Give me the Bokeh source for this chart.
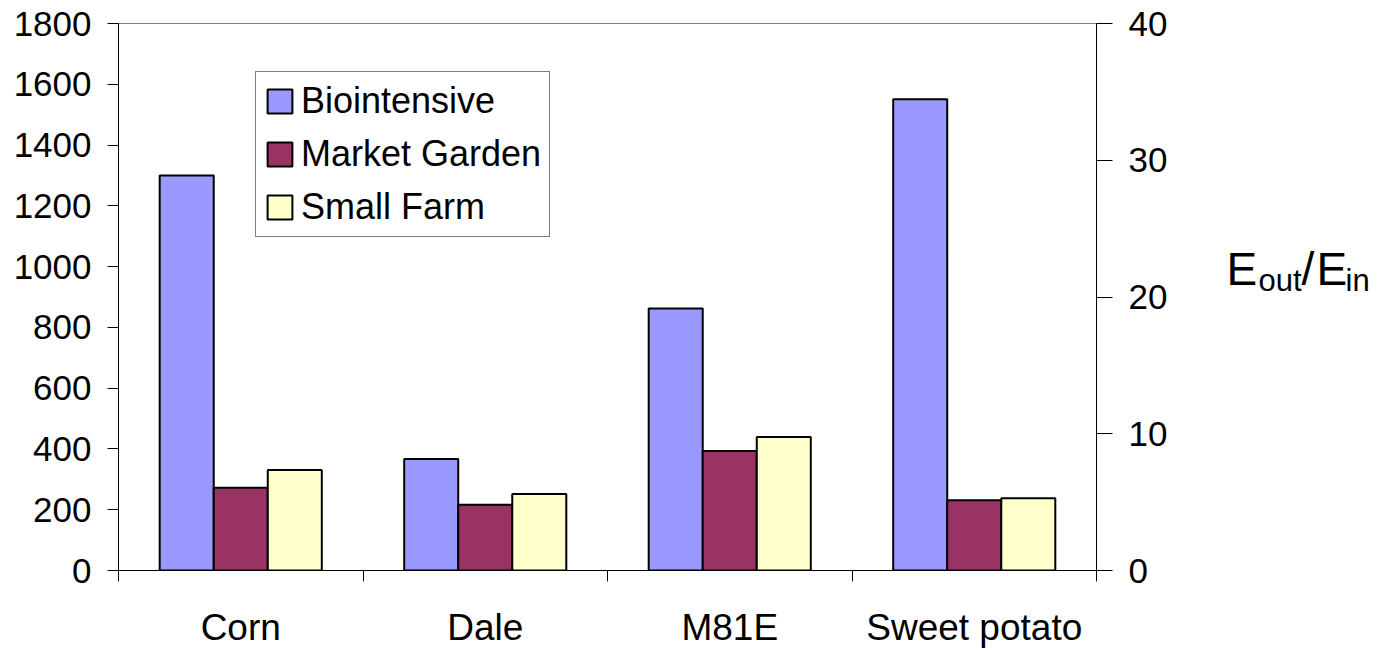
from bokeh.plotting import figure
from bokeh.layouts import row
from bokeh.models import (ColumnDataSource, Range1d, LinearAxis, FixedTicker,
                          Legend, LegendItem)
from bokeh.core.properties import value
from bokeh.embed import file_html
from bokeh.resources import INLINE

# Crops and yields
categories = ["Corn", "Dale", "M81E", "Sweet potato"]
series_names = ["Biointensive", "Market Garden", "Small Farm"]
biointensive = [1300, 367, 862, 1551]
market_garden = [272, 216, 393, 231]
small_farm = [331, 252, 439, 238]
left_ticks = [0, 200, 400, 600, 800, 1000, 1200, 1400, 1600, 1800]
right_ticks = [0, 10, 20, 30, 40]

colors = ["#9999FF", "#993366", "#FFFFCC"]
FONT = "Liberation Sans"

W, H = 1377, 650
MAIN_W = 1200                          # main chart width; the ratio title sits to its right
FL, FR, FT, FB = 118, 1096, 23, 572    # frame edges in pixels

p = figure(width=MAIN_W, height=H, x_range=Range1d(0, len(categories)),
           y_range=Range1d(0, 1800), output_backend="svg", toolbar_location=None,
           min_border_left=FL, min_border_right=MAIN_W - FR, min_border_top=FT,
           min_border_bottom=H - FB, x_axis_type=None, y_axis_type=None)
p.extra_y_ranges = {"ratio": Range1d(0, 40)}
p.xgrid.visible = False
p.ygrid.visible = False
p.outline_line_color = "#808080"
p.outline_line_width = 1
p.background_fill_color = "white"
p.border_fill_color = "white"

# grouped bars
bar_w = 0.221
offsets = [-bar_w, 0.0, bar_w]
renderers = []
for vals, off, col in zip([biointensive, market_garden, small_farm], offsets, colors):
    src = ColumnDataSource(dict(x=[i + 0.5 + off for i in range(len(categories))], top=vals))
    r = p.vbar(x="x", top="top", bottom=0, width=bar_w, source=src,
               fill_color=col, line_color="black", line_width=2)
    renderers.append(r)

# left value axis
ly = LinearAxis(ticker=FixedTicker(ticks=left_ticks, minor_ticks=[]))
ly.major_label_text_font = FONT
ly.major_label_text_font_size = "35px"
ly.major_label_text_color = "black"
ly.major_tick_out = 11
ly.major_tick_in = 0
ly.major_label_standoff = 16
ly.axis_line_color = "black"
ly.major_tick_line_color = "black"
p.add_layout(ly, "left")

# right ratio axis
ry = LinearAxis(y_range_name="ratio", ticker=FixedTicker(ticks=right_ticks, minor_ticks=[]))
ry.major_label_text_font = FONT
ry.major_label_text_font_size = "35px"
ry.major_label_text_color = "black"
ry.major_tick_out = 16
ry.major_tick_in = 0
ry.major_label_standoff = 16
ry.axis_line_color = "black"
ry.major_tick_line_color = "black"
p.add_layout(ry, "right")

# category axis: names at group centres, separator ticks at boundaries
centers = [i + 0.5 for i in range(len(categories))]
bx = LinearAxis(ticker=FixedTicker(ticks=centers,
                                   minor_ticks=list(range(len(categories) + 1))))
bx.major_label_overrides = {c: n for c, n in zip(centers, categories)}
bx.major_label_text_font = FONT
bx.major_label_text_font_size = "37px"
bx.major_label_text_color = "black"
bx.major_tick_line_color = None
bx.major_tick_out = 0
bx.major_tick_in = 0
bx.minor_tick_out = 11
bx.minor_tick_in = 0
bx.minor_tick_line_color = "black"
bx.major_label_standoff = 25
bx.axis_line_color = "black"
p.add_layout(bx, "below")

# legend
legend = Legend(items=[LegendItem(label=n, renderers=[r]) for n, r in zip(series_names, renderers)],
                location=(137, 333), orientation="vertical")
legend.label_text_font = FONT
legend.label_text_font_size = "36px"
legend.label_text_color = "black"
legend.glyph_width = 31
legend.glyph_height = 30
legend.label_standoff = 6
legend.padding = 8
legend.spacing = 11
legend.margin = 0
legend.border_line_color = "black"
legend.border_line_width = 1
legend.background_fill_color = "white"
legend.background_fill_alpha = 1
p.add_layout(legend, "center")

# side panel holding the ratio title E_out/E_in (pixel coordinates, y downward)
SIDE_W = W - MAIN_W
side = figure(width=SIDE_W, height=H, x_range=Range1d(0, SIDE_W), y_range=Range1d(H, 0),
              output_backend="svg", toolbar_location=None, min_border=0,
              x_axis_type=None, y_axis_type=None)
side.xgrid.visible = False
side.ygrid.visible = False
side.outline_line_color = None
side.background_fill_color = "white"
side.border_fill_color = "white"

big, small = "46px", "31px"
base_main, base_sub = 292, 305
parts = [("E", 1226, base_main, big), ("out", 1258, base_sub, small),
         ("/", 1301, base_main, big), ("E", 1316, base_main, big),
         ("in", 1345, base_sub, small)]
for txt, px, py, sz in parts:
    side.text(x=[px - MAIN_W], y=[py], text=[txt], text_font=value(FONT),
              text_font_size=sz, text_color="black",
              text_baseline="alphabetic", text_align="left")

layout = row(p, side, spacing=0)
open("out.html", "w").write(file_html(layout, INLINE))
